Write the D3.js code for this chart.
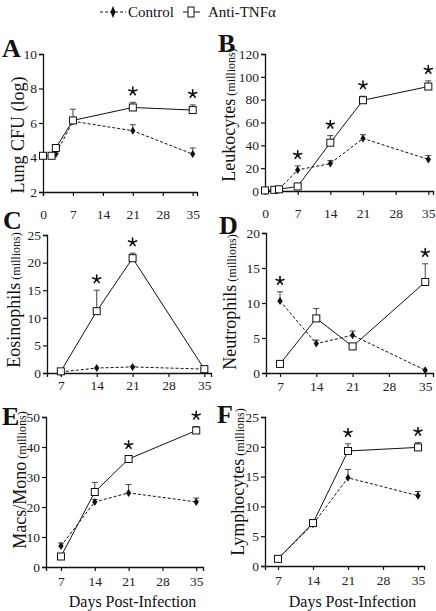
<!DOCTYPE html>
<html><head><meta charset="utf-8">
<script src="https://cdn.jsdelivr.net/npm/d3@7"></script>
<style>
html,body{margin:0;padding:0;background:#fff;}
svg{display:block;font-family:"Liberation Serif","Times New Roman",serif;}
</style></head>
<body>
<svg id="chart" width="436" height="611"></svg>
<script>
// ---------- DATA ----------
const seriesNames = ["Control", "Anti-TNFα"];
const xTicksEarly = [0, 7, 14, 21, 28, 35];
const xTicksLate = [7, 14, 21, 28, 35];

// A: Lung CFU (log)
const aDays = [0, 2, 3, 7, 21, 35];
const aControl = [4.1, 4.1, 4.2, 6.1, 5.55, 4.2];
const aControlErr = [4.1, 4.1, 4.25, 6.1, 5.9, 4.55];
const aAnti = [4.1, 4.1, 4.55, 6.15, 6.9, 6.75];
const aAntiErr = [4.1, 4.1, 4.6, 6.8, 7.2, 7.05];
const aStars = [21, 35];
const aYTicks = [2, 4, 6, 8, 10];

// B: Leukocytes
const bDays = [0, 2, 3, 7, 14, 21, 35];
const bControl = [0.5, 1, 1.5, 18.5, 24, 46, 27.7];
const bControlErr = [0.5, 1, 1.5, 22, 26.6, 49.3, 31];
const bAnti = [0.5, 1, 1.5, 4, 42.3, 79.5, 91.5];
const bAntiErr = [0.5, 1, 1.5, 5, 48.5, 83, 96.5];
const bStars = [7, 14, 21, 35];
const bYTicks = [0, 20, 40, 60, 80, 100, 120];

// C: Eosinophils
const cDays = [7, 14, 21, 35];
const cControl = [0.2, 0.9, 1.1, 0.7];
const cControlErr = [0.2, 0.9, 1.2, 0.7];
const cAnti = [0.3, 11.2, 20.8, 0.7];
const cAntiErr = [0.3, 15, 21.7, 0.8];
const cStars = [14, 21];
const cYTicks = [0, 5, 10, 15, 20, 25];

// D: Neutrophils
const dDays = [7, 14, 21, 35];
const dControl = [10.3, 4.2, 5.4, 0.4];
const dControlErr = [11.6, 4.7, 6.0, 0.4];
const dAnti = [1.3, 7.8, 3.8, 13.0];
const dAntiErr = [1.5, 9.2, 3.8, 15.6];
const dStars = [7, 35];
const dYTicks = [0, 5, 10, 15, 20];

// E: Macs/Mono
const eDays = [7, 14, 21, 35];
const eControl = [7.0, 21.7, 24.7, 21.7];
const eControlErr = [8.0, 22.5, 27.5, 23.0];
const eAnti = [3.5, 25.0, 36.0, 45.5];
const eAntiErr = [3.5, 28.2, 37.0, 46.8];
const eStars = [21, 35];
const eYTicks = [0, 10, 20, 30, 40, 50];

// F: Lymphocytes
const fDays = [7, 14, 21, 35];
const fControl = [1.2, 7.0, 14.8, 11.8];
const fControlErr = [1.5, 7.4, 16.2, 12.5];
const fAnti = [1.2, 7.2, 19.3, 19.9];
const fAntiErr = [1.5, 7.8, 20.5, 20.7];
const fStars = [21, 35];
const fYTicks = [0, 5, 10, 15, 20, 25];

// ---------- LAYOUT ----------
const panels = [
  {letter:"A", lx:2, ly:57, days:aDays, ctl:aControl, ctlErr:aControlErr, anti:aAnti, antiErr:aAntiErr, stars:aStars,
   xDom:[0,36], xRange:[43,197], xTicks:xTicksEarly, yDom:[2,10], yRange:[192,54], yTicks:aYTicks, xPad:13,
   label:"Lung CFU (log)", sub:"", labX:18, labY:135},
  {letter:"B", lx:218, ly:52, days:bDays, ctl:bControl, ctlErr:bControlErr, anti:bAnti, antiErr:bAntiErr, stars:bStars,
   xDom:[0,36], xRange:[265,433], xTicks:xTicksEarly, yDom:[0,120], yRange:[191,54], yTicks:bYTicks, xPad:13,
   label:"Leukocytes", sub:"(millions)", labX:229, labY:115},
  {letter:"C", lx:3, ly:229, days:cDays, ctl:cControl, ctlErr:cControlErr, anti:cAnti, antiErr:cAntiErr, stars:cStars,
   xDom:[4.3,36.3], xRange:[47,211], xTicks:xTicksLate, yDom:[0,25], yRange:[373,235], yTicks:cYTicks, xPad:3,
   label:"Eosinophils", sub:"(millions)", labX:14, labY:300},
  {letter:"D", lx:219, ly:234, days:dDays, ctl:dControl, ctlErr:dControlErr, anti:dAnti, antiErr:dAntiErr, stars:dStars,
   xDom:[4.3,36.5], xRange:[266,433], xTicks:xTicksLate, yDom:[0,20], yRange:[373,233], yTicks:dYTicks, xPad:4,
   label:"Neutrophils", sub:"(millions)", labX:230, labY:302},
  {letter:"E", lx:2, ly:425, days:eDays, ctl:eControl, ctlErr:eControlErr, anti:eAnti, antiErr:eAntiErr, stars:eStars,
   xDom:[3.9,36.4], xRange:[46,203], xTicks:xTicksLate, yDom:[0,50], yRange:[567,417], yTicks:eYTicks, xPad:5,
   label:"Macs/Mono", sub:"(millions)", labX:20, labY:480, xlab:true},
  {letter:"F", lx:217, ly:423, days:fDays, ctl:fControl, ctlErr:fControlErr, anti:fAnti, antiErr:fAntiErr, stars:fStars,
   xDom:[4.4,36.2], xRange:[265,424], xTicks:xTicksLate, yDom:[0,25], yRange:[566,417], yTicks:fYTicks, xPad:5,
   label:"Lymphocytes", sub:"(millions)", labX:238, labY:482, xlab:true}
];

const svg = d3.select("#chart");
const ink = "#111";

// asterisk path (5 spokes)
function starPath(cx, cy, r) {
  let d = "";
  for (let k = 0; k < 5; k++) {
    const a = -Math.PI/2 + k * 2*Math.PI/5;
    d += `M${cx},${cy} L${(cx + r*Math.cos(a)).toFixed(2)},${(cy + r*Math.sin(a)).toFixed(2)} `;
  }
  return d;
}

// legend
const leg = svg.append("g");
leg.append("line").attr("x1",100).attr("x2",126).attr("y1",12).attr("y2",12)
  .attr("stroke",ink).attr("stroke-width",1).attr("stroke-dasharray","3,2");
leg.append("path").attr("d","M113,6 L115.5,12 L113,18 L110.5,12 Z").attr("fill",ink);
leg.append("text").attr("x",128).attr("y",17).attr("font-size",15).attr("fill",ink).text(seriesNames[0]);
leg.append("line").attr("x1",183).attr("x2",200).attr("y1",12).attr("y2",12).attr("stroke",ink).attr("stroke-width",1);
leg.append("rect").attr("x",188).attr("y",7).attr("width",6).attr("height",10).attr("fill","#fff").attr("stroke",ink);
leg.append("text").attr("x",208).attr("y",17).attr("font-size",15).attr("fill",ink).text(seriesNames[1]);

panels.forEach(p => {
  const g = svg.append("g");
  const x = d3.scaleLinear().domain(p.xDom).range(p.xRange);
  const y = d3.scaleLinear().domain(p.yDom).range(p.yRange);

  const xAxis = g.append("g").attr("transform",`translate(0,${p.yRange[0]})`)
    .call(d3.axisBottom(x).tickValues(p.xTicks).tickSize(4).tickPadding(p.xPad));
  const yAxis = g.append("g").attr("transform",`translate(${p.xRange[0]},0)`)
    .call(d3.axisLeft(y).tickValues(p.yTicks).tickSize(4).tickPadding(2));
  [xAxis,yAxis].forEach(a=>{
    a.select(".domain").attr("stroke",ink).attr("stroke-width",1.3);
    a.selectAll(".tick line").attr("stroke",ink).attr("stroke-width",1.2);
    a.selectAll(".tick text").attr("font-size",13.5).attr("fill","#222")
      .attr("font-family","Liberation Serif, serif");
  });

  const line = d3.line().x(d=>x(d[0])).y(d=>y(d[1]));
  const ctlPts = p.days.map((d,i)=>[d,p.ctl[i]]);
  const antiPts = p.days.map((d,i)=>[d,p.anti[i]]);

  // error bars
  const errs = (vals, tops) => p.days.map((d,i)=>({d, v:vals[i], t:tops[i]})).filter(e=>e.t>e.v+0.001);
  [[p.ctl,p.ctlErr],[p.anti,p.antiErr]].forEach(([v,t])=>{
    errs(v,t).forEach(e=>{
      g.append("line").attr("x1",x(e.d)).attr("x2",x(e.d)).attr("y1",y(e.v)).attr("y2",y(e.t))
        .attr("stroke","#444").attr("stroke-width",1);
      g.append("line").attr("x1",x(e.d)-3).attr("x2",x(e.d)+3).attr("y1",y(e.t)).attr("y2",y(e.t))
        .attr("stroke","#444").attr("stroke-width",1);
    });
  });

  g.append("path").datum(ctlPts).attr("d",line).attr("fill","none").attr("stroke",ink)
    .attr("stroke-width",1).attr("stroke-dasharray","3,2");
  g.append("path").datum(antiPts).attr("d",line).attr("fill","none").attr("stroke",ink)
    .attr("stroke-width",1);

  // control diamonds
  g.selectAll(null).data(ctlPts).enter().append("path")
    .attr("d",d=>{const cx=x(d[0]), cy=y(d[1]); return `M${cx},${cy-4} L${cx+2.6},${cy} L${cx},${cy+4} L${cx-2.6},${cy} Z`;})
    .attr("fill",ink);
  // anti squares
  g.selectAll(null).data(antiPts).enter().append("rect")
    .attr("x",d=>x(d[0])-3.5).attr("y",d=>y(d[1])-3.5).attr("width",7).attr("height",7)
    .attr("fill","#fff").attr("stroke",ink).attr("stroke-width",1);

  // significance stars above the highest point
  p.stars.forEach(s=>{
    const i = p.days.indexOf(s);
    const top = Math.max(p.ctlErr[i], p.antiErr[i], p.ctl[i], p.anti[i]);
    g.append("path").attr("d", starPath(x(s), y(top)-11, 4.2))
      .attr("stroke",ink).attr("stroke-width",1.6).attr("stroke-linecap","round").attr("fill","none");
  });

  // panel letter
  g.append("text").attr("x",p.lx).attr("y",p.ly).attr("font-size",26).attr("font-weight","bold")
    .attr("fill",ink).text(p.letter);

  // y label
  const t = g.append("text").attr("transform",`translate(${p.labX + 6},${p.labY}) rotate(-90)`)
    .attr("text-anchor","middle").attr("fill",ink);
  t.append("tspan").attr("font-size",18).text(p.label);
  if (p.sub) t.append("tspan").attr("font-size",12).text(" " + p.sub);

  if (p.xlab) {
    g.append("text").attr("x",(p.xRange[0]+p.xRange[1])/2+8).attr("y",607).attr("text-anchor","middle")
      .attr("font-size",16).attr("fill",ink).text("Days Post-Infection");
  }
});
</script>
</body></html>
